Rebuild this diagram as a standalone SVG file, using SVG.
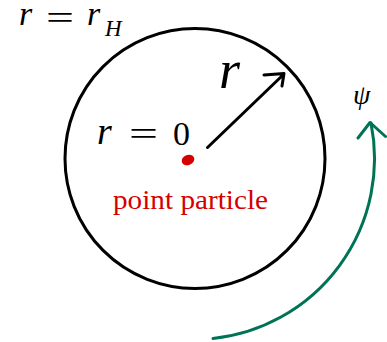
<svg xmlns="http://www.w3.org/2000/svg" width="387" height="342" viewBox="0 0 387 342">
<style>
.blk{fill:none;stroke:#000;stroke-width:3;stroke-linecap:round;stroke-linejoin:round}
.grn{fill:none;stroke:#007256;stroke-width:3;stroke-linecap:round;stroke-linejoin:round}
.t{font-family:'Liberation Serif','DejaVu Serif',serif;fill:#000}
.i{font-style:italic}
.red{fill:#d40000}
</style>
<rect width="387" height="342" fill="#fff"/>
<g id="horizon">
<circle cx="195" cy="158.5" r="130" class="blk"/>
<text class="t i" x="19" y="25" font-size="34">r</text>
<text class="t" x="46" y="29" font-size="34" textLength="28" lengthAdjust="spacingAndGlyphs">=</text>
<text class="t i" x="87" y="25" font-size="34">r</text>
<text class="t i" x="105" y="36" font-size="23">H</text>
</g>
<g id="particle">
<ellipse cx="188" cy="160" rx="6.5" ry="5" transform="rotate(-20 188 160)" class="red"/>
<text class="t i" x="97" y="144" font-size="38">r</text>
<text class="t" x="129" y="145" font-size="34" textLength="29" lengthAdjust="spacingAndGlyphs">=</text>
<text class="t" x="173" y="145" font-size="34">0</text>
<text class="t red" x="113" y="209" font-size="27" textLength="155" lengthAdjust="spacingAndGlyphs">point particle</text>
</g>
<g id="radius-label">
<text class="t i" x="219" y="88" font-size="54">r</text>
</g>
<g id="psi-label">
<text class="t i" x="353" y="104" font-size="28">ψ</text>
</g>
<g id="connectors">
<path d="M207.5 147.5 L284 74 M264 75 L284 73.5 L282 86" class="blk"/>
<path d="M213 338.5 A181 181 0 0 0 371 123" class="grn"/>
<path d="M358 138 L370 122.5 L385.5 136.5" class="grn"/>
</g>
</svg>
